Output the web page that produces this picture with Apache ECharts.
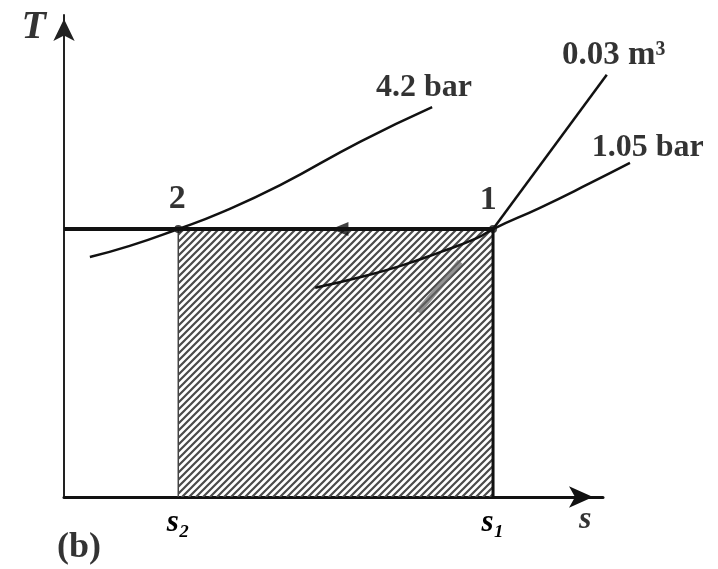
<!DOCTYPE html>
<html><head><meta charset="utf-8">
<script src="https://cdn.jsdelivr.net/npm/echarts@6/dist/echarts.min.js"></script>
<style>html,body{margin:0;padding:0;background:#fff}#c{width:718px;height:569px}</style>
</head><body><div id="c"></div>
<script>
// ---- data (entropy s on x, temperature T on y, arbitrary units 0..100) ----
const S2 = 21.2, S1 = 79.6, T1 = 55.6;
const xTickValues = [S2, S1];
const xTickLabels = ['s₂', 's₁'];
const stateNames = ['2', '1'];
const stateS = [S2, S1];
const isotherm = [[0, T1], [S1, T1]];
const hatchTop = [[S2, T1], [S1, T1]];
const p42Curve = [[4.8,49.8],[12.2,52.1],[21.2,55.6],[28.9,58.9],[40.1,64.7],[54.9,73.7],[68.3,80.9]];
const p105Curve = [[46.6,43.4],[54.9,45.6],[62.3,47.9],[69.8,50.8],[76.6,53.7],[79.6,55.6],[88.3,60.0],[97.6,65.1],[105.0,69.3]];
const v003Line = [[79.6,55.6],[100.7,87.6]];
const v003Faint = [[73.5,48.8],[65.7,38.4]];
const arrowS = [51.2];
const curveNames = ['4.2 bar', '0.03 m³', '1.05 bar'];

// layout of the main grid (pixels) and a full-canvas overlay grid with the same scale
const W = 718, H = 569, GL = 64, GR = 115, GT = 15, GB = 72;
const kx = (W - GL - GR) / 100, ky = (H - GT - GB) / 100;
const ox = {min: -GL / kx, max: (W - GL) / kx};
const oy = {min: -GB / ky, max: (H - GB) / ky};

// hatch pattern
const P = 7;
const pc = document.createElement('canvas');
pc.width = P; pc.height = P;
const g = pc.getContext('2d');
g.strokeStyle = '#4a4a4a'; g.lineWidth = 2.2;
g.beginPath();
g.moveTo(-2, P + 2); g.lineTo(P + 2, -2);
g.moveTo(-2, 2); g.lineTo(2, -2);
g.moveTo(P - 2, P + 2); g.lineTo(P + 2, P - 2);
g.stroke();

const serif = 'Liberation Serif';
const chart = echarts.init(document.getElementById('c'), null, {renderer: 'canvas'});

function textPoint(x, y, text, size, extra) {
  return {
    type: 'scatter', xAxisIndex: 1, yAxisIndex: 1, symbol: 'circle', symbolSize: 1,
    itemStyle: {color: 'transparent'}, silent: true, z: 10,
    data: [[x, y]],
    label: Object.assign({show: true, position: 'inside', formatter: text,
      fontFamily: serif, fontSize: size, fontWeight: 'bold', color: '#000'}, extra || {})
  };
}
function ln(data, style, extra) {
  return Object.assign({type: 'line', xAxisIndex: 1, yAxisIndex: 1, data: data, symbol: 'none',
    lineStyle: style, z: 4}, extra || {});
}

const option = {
  backgroundColor: '#fff',
  animation: false,
  grid: [
    {left: GL, right: GR, top: GT, bottom: GB},
    {left: 0, right: 0, top: 0, bottom: 0}
  ],
  xAxis: [{
    type: 'value', gridIndex: 0, min: 0, max: 100,
    splitLine: {show: false},
    axisTick: {show: false},
    axisLine: {show: true, lineStyle: {color: '#111', width: 3}, symbol: ['none', 'arrow'], symbolSize: [16, 24], symbolOffset: [0, -10]},
    axisLabel: {
      customValues: xTickValues,
      formatter: v => xTickLabels[xTickValues.indexOf(v)] || '',
      fontFamily: serif, fontSize: 31, fontStyle: 'italic', fontWeight: 'bold', color: '#000', margin: 10
    }
  }, {
    type: 'value', gridIndex: 1, min: ox.min, max: ox.max, show: false
  }],
  yAxis: [{
    type: 'value', gridIndex: 0, min: 0, max: 100,
    splitLine: {show: false},
    axisTick: {show: false},
    axisLabel: {show: false},
    axisLine: {show: true, lineStyle: {color: '#222', width: 2}, symbol: ['none', 'arrow'], symbolSize: [16, 22], symbolOffset: [0, -4]}
  }, {
    type: 'value', gridIndex: 1, min: oy.min, max: oy.max, show: false
  }],
  series: [
    ln(hatchTop, {width: 0}, {z: 1, areaStyle: {color: {image: pc, repeat: 'repeat'}, opacity: 1}}),
    ln([[S2, 0], [S2, T1]], {color: '#444', width: 1.5}, {z: 2}),
    ln([[S1, 0], [S1, T1]], {color: '#111', width: 3}, {z: 2}),
    ln(isotherm, {color: '#111', width: 4}, {z: 3}),
    ln(p42Curve, {color: '#111', width: 2.5}, {smooth: true}),
    ln(p105Curve, {color: '#111', width: 2.5}, {smooth: true}),
    ln(v003Line, {color: '#111', width: 2.5}),
    ln(v003Faint, {color: '#666', width: 6, opacity: 0.7}),
    {type: 'scatter', xAxisIndex: 1, yAxisIndex: 1, data: arrowS.map(s => [s, T1]), symbol: 'triangle',
     symbolRotate: 90, symbolSize: [14, 17], itemStyle: {color: '#111'}, z: 5, silent: true},
    {type: 'scatter', xAxisIndex: 1, yAxisIndex: 1, symbol: 'circle', symbolSize: 8,
     itemStyle: {color: '#111'}, z: 5, silent: true, data: stateS.map(s => [s, T1])},
    textPoint(S2 - 0.2, 61.8, stateNames[0], 34),
    textPoint(S1 - 0.9, 61.6, stateNames[1], 34),
    textPoint(66.8, 84.9, curveNames[0], 32),
    textPoint(102.0, 91.7, curveNames[1], 33),
    textPoint(108.3, 72.4, curveNames[2], 32),
    textPoint(-5.6, 97.3, 'T', 40, {fontStyle: 'italic'}),
    textPoint(96.7, -4.8, 's', 32, {fontStyle: 'italic'}),
    textPoint(2.8, -10.6, '(b)', 36)
  ]
};
chart.setOption(option);
</script></body></html>
